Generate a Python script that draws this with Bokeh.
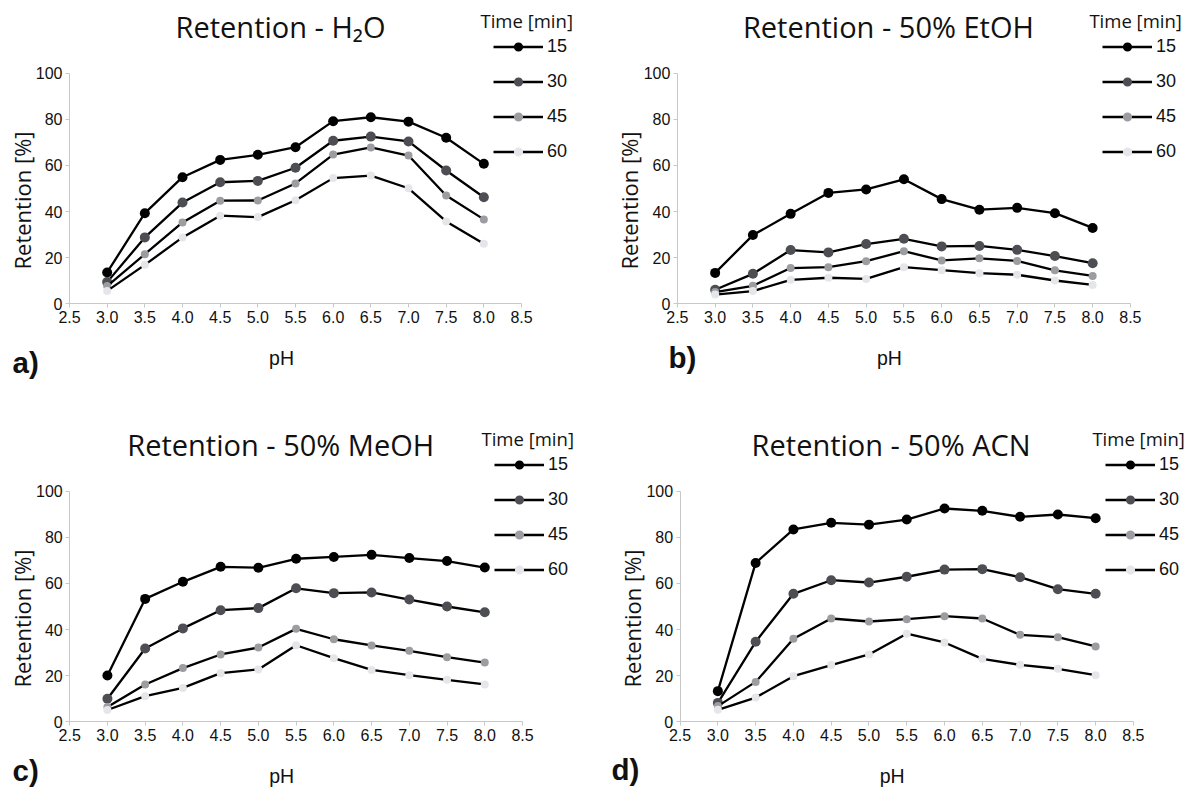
import math
from bokeh.plotting import figure
from bokeh.models import Range1d, FixedTicker, Label, Legend, LegendItem
from bokeh.layouts import row, column
from bokeh.embed import file_html
from bokeh.resources import INLINE

# ---------------- data ----------------
ph = [3.0, 3.5, 4.0, 4.5, 5.0, 5.5, 6.0, 6.5, 7.0, 7.5, 8.0]
times = ["15", "30", "45", "60"]

x_ticks = [2.5, 3.0, 3.5, 4.0, 4.5, 5.0, 5.5, 6.0, 6.5, 7.0, 7.5, 8.0, 8.5]
x_tick_labels = ["2.5", "3.0", "3.5", "4.0", "4.5", "5.0", "5.5", "6.0", "6.5", "7.0", "7.5", "8.0", "8.5"]
y_ticks = [0, 20, 40, 60, 80, 100]
y_tick_labels = ["0", "20", "40", "60", "80", "100"]

h2o_15 = [13.6, 39.3, 54.9, 62.4, 64.6, 67.9, 79.2, 80.9, 79.0, 72.0, 60.7]
h2o_30 = [9.4, 28.8, 43.9, 52.7, 53.3, 59.0, 70.7, 72.5, 70.4, 57.8, 46.2]
h2o_45 = [7.7, 21.5, 35.3, 44.7, 44.8, 52.2, 64.7, 67.8, 64.3, 47.0, 36.6]
h2o_60 = [5.6, 16.9, 28.8, 38.2, 37.6, 44.9, 54.5, 55.6, 50.1, 35.7, 26.0]

etoh_15 = [13.4, 29.8, 39.0, 48.1, 49.6, 54.0, 45.4, 40.8, 41.6, 39.3, 32.9]
etoh_30 = [6.1, 13.0, 23.3, 22.3, 25.9, 28.2, 24.9, 25.1, 23.4, 20.7, 17.6]
etoh_45 = [5.1, 7.8, 15.5, 15.9, 18.5, 22.8, 18.8, 19.7, 18.6, 14.5, 12.1]
etoh_60 = [4.0, 5.5, 10.4, 11.3, 10.8, 15.9, 14.6, 13.3, 12.6, 10.1, 8.2]

meoh_15 = [20.1, 53.3, 60.7, 67.2, 66.8, 70.7, 71.5, 72.4, 71.0, 69.7, 66.9]
meoh_30 = [10.0, 31.8, 40.5, 48.4, 49.3, 57.9, 55.8, 56.1, 53.0, 50.0, 47.5]
meoh_45 = [6.4, 16.2, 23.3, 29.2, 32.2, 40.3, 35.8, 33.1, 30.8, 28.0, 25.7]
meoh_60 = [5.1, 11.1, 14.7, 21.1, 22.7, 33.2, 27.6, 22.5, 20.2, 18.2, 16.2]

acn_15 = [13.3, 68.9, 83.4, 86.3, 85.5, 87.7, 92.5, 91.5, 88.9, 89.9, 88.3]
acn_30 = [8.2, 34.7, 55.5, 61.4, 60.4, 62.9, 66.0, 66.2, 62.7, 57.5, 55.5]
acn_45 = [6.8, 17.3, 36.0, 44.8, 43.5, 44.5, 45.8, 44.8, 37.7, 36.7, 32.7]
acn_60 = [5.2, 10.5, 19.8, 24.6, 29.2, 38.2, 34.4, 27.3, 24.7, 23.0, 20.2]

titles = ["Retention - H\u2082O", "Retention - 50% EtOH", "Retention - 50% MeOH", "Retention - 50% ACN"]
letters = ["a)", "b)", "c)", "d)"]
legend_title = "Time [min]"
x_label = "pH"
y_label = "Retention [%]"

# ---------------- style ----------------
marker_colors = ["#000000", "#4d4e53", "#9c9da1", "#e5e6e9"]
marker_sizes = [10, 10, 8, 8]
AXIS_COLOR = "#c8c8c8"
TEXT_COLOR = "#111111"

W, H = 593, 394


def make_panel(title, series, frame, letter, letter_xy):
    # frame of the data area in panel pixels
    L, R, T, B = frame
    fw, fh = R - L, B - T
    xr = Range1d(2.5 - L / fw * 6.0, 2.5 + (W - L) / fw * 6.0)
    yr = Range1d(-(H - B) / fh * 100.0, B / fh * 100.0)
    p = figure(width=W, height=H, x_range=xr, y_range=yr,
               output_backend="svg", toolbar_location=None, tools="",
               min_border=0)
    p.title.visible = False
    p.outline_line_color = None
    p.xgrid.grid_line_color = None
    p.ygrid.grid_line_color = None
    p.background_fill_color = "white"
    p.border_fill_color = "white"

    for ax in (p.xaxis, p.yaxis):
        ax.axis_line_color = AXIS_COLOR
        ax.axis_line_width = 1
        ax.major_tick_line_color = AXIS_COLOR
        ax.major_tick_in = 0
        ax.major_tick_out = 4
        ax.minor_tick_line_color = None
        ax.major_label_text_font = "Liberation Sans"
        ax.major_label_text_font_size = "16px"
        ax.major_label_text_color = TEXT_COLOR
    p.xaxis.ticker = FixedTicker(ticks=x_ticks)
    p.xaxis.major_label_overrides = {t: s for t, s in zip(x_ticks, x_tick_labels)}
    p.xaxis.major_label_standoff = 3
    p.xaxis.fixed_location = 0
    p.xaxis.bounds = (x_ticks[0], x_ticks[-1])
    p.yaxis.ticker = FixedTicker(ticks=y_ticks)
    p.yaxis.major_label_overrides = {t: s for t, s in zip(y_ticks, y_tick_labels)}
    p.yaxis.major_label_standoff = 3
    p.yaxis.fixed_location = x_ticks[0]
    p.yaxis.bounds = (y_ticks[0], y_ticks[-1])

    items = []
    for name, vals, col, sz in zip(times, series, marker_colors, marker_sizes):
        lr = p.line(ph, vals, line_color="black", line_width=2.3)
        sr = p.scatter(ph, vals, marker="circle", size=sz, fill_color=col, line_color=None)
        items.append(LegendItem(label=name, renderers=[lr, sr]))

    # panel pixel -> data coords (for text placement only)
    def dx(px):
        return 2.5 + (px - L) / fw * 6.0

    def dy(py):
        return (B - py) / fh * 100.0

    # legend (rows every ~35 px, first row 26.7 px above the frame)
    gh = 23
    sp = 12
    leg_h = 4 * gh + 3 * sp
    top_px = (T - 26.7) - gh / 2.0
    vy = H - (top_px + leg_h)
    vx = R - 28
    leg = Legend(items=items, location=(vx, vy), orientation="vertical",
                 glyph_width=50, glyph_height=gh, label_height=gh,
                 spacing=sp, padding=0, margin=0, label_standoff=4,
                 label_text_font="Liberation Sans", label_text_font_size="18px",
                 label_text_color=TEXT_COLOR,
                 border_line_color=None, background_fill_alpha=0)
    p.add_layout(leg)

    p.add_layout(Label(x=dx(L + 211), y=dy(T - 46.7), text=title, text_align="center",
                       text_baseline="middle", text_font="Open Sans",
                       text_font_size="29px", text_color=TEXT_COLOR))
    p.add_layout(Label(x=dx(R - 41), y=dy(T - 52.5), text=legend_title, text_align="left",
                       text_baseline="middle", text_font="Open Sans",
                       text_font_size="18.5px", text_color=TEXT_COLOR))
    p.add_layout(Label(x=dx(L - 48), y=dy((T + B) / 2.0 + 12), text=y_label,
                       angle=math.pi / 2, text_align="center", text_baseline="middle",
                       text_font="Open Sans", text_font_size="22px", text_color=TEXT_COLOR))
    p.add_layout(Label(x=dx(L + 212), y=dy(B + 54), text=x_label, text_align="center",
                       text_baseline="middle", text_font="Liberation Sans",
                       text_font_size="19.5px", text_color=TEXT_COLOR))
    lx, ly = letter_xy
    p.add_layout(Label(x=dx(lx), y=dy(ly), text=letter, text_align="left",
                       text_baseline="middle", text_font="Liberation Sans",
                       text_font_style="bold", text_font_size="29.5px", text_color=TEXT_COLOR))
    return p


frames = [
    (69.0, 521.0, 72.7, 303.3),
    (83.9, 536.9, 72.7, 303.3),
    (69.2, 522.0, 96.7, 327.3),
    (86.6, 539.9, 96.7, 327.3),
]
letter_pos = [(12, 362.4), (75, 357.4), (12, 375.5), (18, 374.5)]
all_series = [
    [h2o_15, h2o_30, h2o_45, h2o_60],
    [etoh_15, etoh_30, etoh_45, etoh_60],
    [meoh_15, meoh_30, meoh_45, meoh_60],
    [acn_15, acn_30, acn_45, acn_60],
]

panels = [make_panel(titles[i], all_series[i], frames[i], letters[i], letter_pos[i]) for i in range(4)]

layout = column(row(panels[0], panels[1]), row(panels[2], panels[3]))
open("out.html", "w").write(file_html(layout, INLINE))
